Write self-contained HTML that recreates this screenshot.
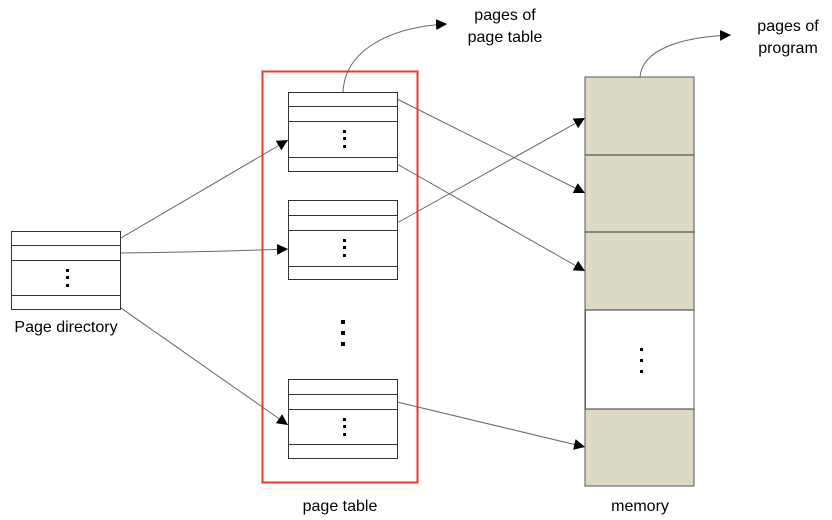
<!DOCTYPE html>
<html><head><meta charset="utf-8"><style>
html,body{margin:0;padding:0;background:#fff;}
svg{display:block;font-family:"Liberation Sans",sans-serif;}
</style></head><body>
<svg width="832" height="520" viewBox="0 0 832 520" xmlns="http://www.w3.org/2000/svg">
<defs>
<marker id="a" viewBox="0 0 10 10" refX="10" refY="5" markerWidth="11" markerHeight="11" markerUnits="userSpaceOnUse" orient="auto">
<path d="M0,0 L10,5 L0,10 z" fill="#000"/></marker>
</defs>
<rect x="585" y="77" width="109" height="409" fill="#dcd9c6" stroke="#555" stroke-width="1"/>
<rect x="585.5" y="310" width="108.5" height="99" fill="#fff"/>
<g stroke="#333" stroke-width="1">
<line x1="585" y1="155" x2="694" y2="155"/>
<line x1="585" y1="232" x2="694" y2="232"/>
<line x1="585" y1="310" x2="694" y2="310"/>
<line x1="585" y1="409" x2="694" y2="409"/>
</g>
<line x1="585.5" y1="310" x2="585.5" y2="409" stroke="#555"/>
<line x1="694" y1="310" x2="694" y2="409" stroke="#555"/>
<g fill="#000">
<rect x="640" y="348" width="3" height="3"/><rect x="640" y="359" width="3" height="3"/><rect x="640" y="370" width="3" height="3"/>
</g>
<rect x="262.5" y="71.5" width="155" height="411" fill="none" stroke="#e8392b" stroke-width="2"/>
<g fill="#fff" stroke="#333" stroke-width="1">
<rect x="11.5" y="231.5" width="109" height="78"/>
<rect x="288.5" y="92.5" width="109" height="79"/>
<rect x="288.5" y="200.5" width="109" height="79"/>
<rect x="288.5" y="379.5" width="109" height="79"/>
</g>
<g stroke="#333" stroke-width="1">
<line x1="11" y1="245.5" x2="121" y2="245.5"/><line x1="11" y1="260.5" x2="121" y2="260.5"/><line x1="11" y1="295.5" x2="121" y2="295.5"/>
<line x1="288" y1="106.5" x2="398" y2="106.5"/><line x1="288" y1="121.5" x2="398" y2="121.5"/><line x1="288" y1="157.5" x2="398" y2="157.5"/>
<line x1="288" y1="215.5" x2="398" y2="215.5"/><line x1="288" y1="230.5" x2="398" y2="230.5"/><line x1="288" y1="266.5" x2="398" y2="266.5"/>
<line x1="288" y1="394.5" x2="398" y2="394.5"/><line x1="288" y1="409.5" x2="398" y2="409.5"/><line x1="288" y1="444.5" x2="398" y2="444.5"/>
</g>
<g fill="#000">
<rect x="66" y="269" width="3" height="3"/><rect x="66" y="276" width="3" height="3"/><rect x="66" y="284" width="3" height="3"/>
<rect x="343" y="130" width="3" height="3"/><rect x="343" y="137" width="3" height="3"/><rect x="343" y="145" width="3" height="3"/>
<rect x="343" y="239" width="3" height="3"/><rect x="343" y="246" width="3" height="3"/><rect x="343" y="254" width="3" height="3"/>
<rect x="343" y="418" width="3" height="3"/><rect x="343" y="425" width="3" height="3"/><rect x="343" y="433" width="3" height="3"/>
<rect x="341" y="320" width="4" height="4"/><rect x="341" y="331" width="4" height="4"/><rect x="341" y="342" width="4" height="4"/>
</g>
<g stroke="#666" stroke-width="1" fill="none" marker-end="url(#a)">
<line x1="121" y1="238" x2="288" y2="140"/>
<path d="M121,253 Q200,252 288,249"/>
<line x1="121" y1="308" x2="288" y2="425"/>
<line x1="397" y1="99" x2="585" y2="193"/>
<line x1="397" y1="164" x2="585" y2="271"/>
<line x1="397" y1="223" x2="585" y2="118"/>
<line x1="397" y1="402" x2="585" y2="447"/>
<path d="M343,92 C345,50 390,27 447,24"/>
<path d="M640,77 C642,50 680,37 731,35"/>
</g>
<g font-size="16" fill="#000" text-anchor="middle">
<text x="66" y="332">Page directory</text>
<text x="340" y="511">page table</text>
<text x="640" y="511">memory</text>
<text x="505" y="20">pages of</text>
<text x="505" y="42">page table</text>
<text x="788" y="31">pages of</text>
<text x="788" y="53">program</text>
</g>
</svg>
</body></html>
